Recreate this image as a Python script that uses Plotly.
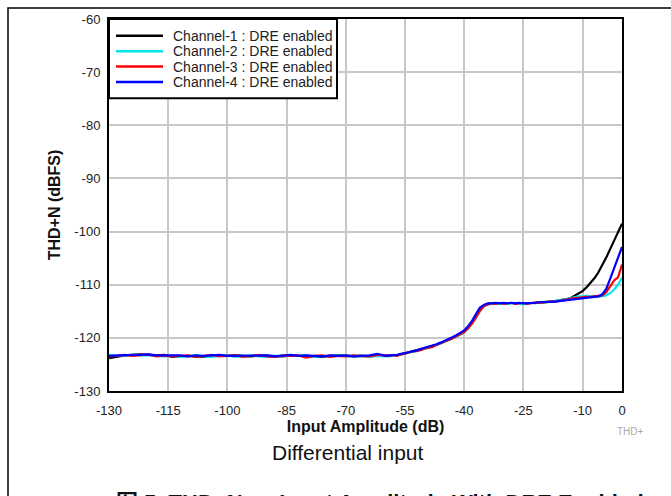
import plotly.graph_objects as go

# x positions (dB)
x_flat = [-130, -128, -126, -124, -122, -120, -118, -116, -114, -112, -110, -108,
          -106, -104, -102, -100, -98, -96, -94, -92, -90, -88, -86, -84,
          -82, -80, -78, -76, -74, -72, -70, -68, -66, -64, -62, -60]
x_rise = [-59, -58, -57, -56, -55, -54, -53, -52, -51, -50,
          -49, -48, -47, -46, -45, -44, -43, -42, -41, -40,
          -39, -38, -37, -36, -35, -34, -33, -32, -31, -30,
          -29, -28, -27, -26, -25, -24, -23, -22, -21, -20,
          -19, -18, -17, -16, -15, -14, -13, -12, -11, -10,
          -9, -8, -7, -6, -5, -4, -3, -2, -1, 0]
input_db = x_flat + x_rise

ch1 = [-123.8, -123.5, -123.3, -123.2, -123.1, -123.2, -123.3, -123.2, -123.6, -123.5, -123.4, -123.5,
       -123.6, -123.3, -123.4, -123.4, -123.3, -123.4, -123.5, -123.3, -123.4, -123.4, -123.5, -123.3,
       -123.4, -123.4, -123.5, -123.6, -123.4, -123.3, -123.4, -123.5, -123.4, -123.5, -123.3, -123.4,
       -123.4, -123.3, -123.3, -123.1, -122.9, -122.8, -122.6, -122.4, -122.2, -122.0,
       -121.8, -121.6, -121.3, -121.0, -120.7, -120.4, -120.0, -119.6, -119.3, -118.8,
       -118.0, -117.0, -115.8, -114.6, -113.9, -113.6, -113.5, -113.5, -113.4, -113.5,
       -113.5, -113.4, -113.5, -113.5, -113.5, -113.4, -113.5, -113.4, -113.3, -113.3,
       -113.2, -113.2, -113.1, -113.0, -112.9, -112.7, -112.5, -112.1, -111.7, -111.2,
       -110.5, -109.7, -108.8, -107.7, -106.4, -104.9, -103.3, -101.7, -100.1, -98.5]

ch2 = [-123.2, -123.4, -123.3, -123.3, -123.2, -123.3, -123.4, -123.5, -123.4, -123.6, -123.4, -123.3,
       -123.5, -123.6, -123.4, -123.3, -123.6, -123.4, -123.3, -123.5, -123.6, -123.4, -123.4, -123.5,
       -123.4, -123.3, -123.6, -123.4, -123.5, -123.3, -123.4, -123.5, -123.3, -123.6, -123.4, -123.5,
       -123.5, -123.4, -123.3, -123.2, -123.0, -122.8, -122.7, -122.5, -122.2, -122.1,
       -121.9, -121.6, -121.4, -121.1, -120.8, -120.5, -120.2, -119.8, -119.4, -119.0,
       -118.3, -117.4, -116.3, -115.0, -114.1, -113.7, -113.6, -113.5, -113.6, -113.5,
       -113.6, -113.5, -113.4, -113.6, -113.7, -113.5, -113.4, -113.5, -113.3, -113.4,
       -113.3, -113.2, -113.1, -113.0, -112.9, -112.7, -112.5, -112.3, -112.2, -112.2,
       -112.1, -112.2, -112.1, -112.3, -112.2, -112.0, -111.6, -110.9, -110.0, -108.7]

ch3 = [-123.5, -123.3, -123.2, -123.4, -123.3, -123.1, -123.5, -123.3, -123.5, -123.4, -123.3, -123.6,
       -123.4, -123.2, -123.5, -123.4, -123.3, -123.6, -123.4, -123.2, -123.5, -123.6, -123.3, -123.4,
       -123.3, -123.7, -123.4, -123.3, -123.6, -123.4, -123.5, -123.3, -123.4, -123.5, -123.2, -123.4,
       -123.4, -123.2, -123.4, -123.1, -123.0, -122.7, -122.6, -122.4, -122.3, -122.0,
       -121.8, -121.7, -121.3, -121.0, -120.8, -120.4, -120.1, -119.7, -119.3, -118.9,
       -118.2, -117.3, -116.1, -114.9, -114.0, -113.7, -113.5, -113.6, -113.4, -113.6,
       -113.5, -113.4, -113.6, -113.5, -113.4, -113.6, -113.5, -113.3, -113.4, -113.3,
       -113.3, -113.2, -113.2, -113.1, -112.9, -112.8, -112.6, -112.5, -112.4, -112.4,
       -112.3, -112.3, -112.2, -112.2, -112.0, -111.4, -110.3, -109.2, -108.6, -106.2]

ch4 = [-123.4, -123.3, -123.3, -123.2, -123.2, -123.1, -123.3, -123.3, -123.4, -123.3, -123.5, -123.3,
       -123.4, -123.3, -123.2, -123.4, -123.4, -123.3, -123.4, -123.3, -123.3, -123.5, -123.3, -123.2,
       -123.4, -123.3, -123.4, -123.5, -123.3, -123.4, -123.3, -123.5, -123.4, -123.3, -123.0, -123.4,
       -123.3, -123.3, -123.2, -123.0, -122.9, -122.7, -122.5, -122.4, -122.1, -121.9,
       -121.7, -121.5, -121.2, -120.9, -120.6, -120.3, -119.9, -119.5, -119.1, -118.6,
       -117.8, -116.8, -115.5, -114.3, -113.8, -113.5, -113.5, -113.4, -113.5, -113.4,
       -113.5, -113.4, -113.5, -113.4, -113.5, -113.5, -113.4, -113.4, -113.3, -113.3,
       -113.3, -113.2, -113.2, -113.1, -113.0, -112.9, -112.8, -112.7, -112.6, -112.5,
       -112.4, -112.4, -112.3, -112.2, -111.8, -110.8, -108.9, -106.8, -104.8, -102.9]

series_names = ["Channel-1 : DRE enabled", "Channel-2 : DRE enabled",
                "Channel-3 : DRE enabled", "Channel-4 : DRE enabled"]
series_values = [ch1, ch2, ch3, ch4]
series_colors = ["#000000", "#00e5ee", "#ff0000", "#0000ff"]

x_ticks = [-130, -115, -100, -85, -70, -55, -40, -25, -10, 0]
y_ticks = [-130, -120, -110, -100, -90, -80, -70, -60]

FONT = "Liberation Sans, Arial, sans-serif"

fig = go.Figure()
for name, vals, col in zip(series_names, series_values, series_colors):
    fig.add_trace(go.Scatter(x=input_db, y=vals, mode="lines", name=name,
                             line=dict(color=col, width=2.2)))

W, H = 671, 496
L, R, T, B = 109, 49, 16, 105
pw, ph = W - L - R, H - T - B


def px(xp):
    return (xp - L) / pw


def py(yp):
    return (H - B - yp) / ph


shapes = [dict(type="rect", xref="paper", yref="paper",
               x0=px(8), x1=px(690), y0=py(520), y1=py(5),
               line=dict(color="black", width=1.5), fillcolor="rgba(0,0,0,0)",
               layer="below")]
annotations = []

# legend box (drawn manually for compact row spacing)
shapes.append(dict(type="rect", xref="paper", yref="paper",
                   x0=px(109), x1=px(337), y0=py(96), y1=py(16),
                   line=dict(color="black", width=2), fillcolor="white", layer="above"))
row_y = [33, 48.5, 64, 79.5]
for name, col, ry in zip(series_names, series_colors, row_y):
    shapes.append(dict(type="line", xref="paper", yref="paper",
                       x0=px(116), x1=px(163), y0=py(ry), y1=py(ry),
                       line=dict(color=col, width=2.5), layer="above"))
    annotations.append(dict(text=name, xref="paper", yref="paper",
                            x=px(171), y=py(ry), xanchor="left", yanchor="middle",
                            showarrow=False,
                            font=dict(family=FONT, size=14, color="#222222")))

annotations += [
    dict(text="THD+", xref="paper", yref="paper", x=px(630), y=py(432),
         xanchor="center", yanchor="middle",
         showarrow=False, font=dict(family=FONT, size=10, color="#aaaaaa")),
    dict(text="Differential input", xref="paper", yref="paper", x=px(348), y=py(453),
         xanchor="center", yanchor="middle",
         showarrow=False, font=dict(family=FONT, size=21, color="#111111")),
    dict(text="<b>图 5. THD+N vs Input Amplitude With DRE Enabled</b>",
         xref="paper", yref="paper", x=px(114), y=py(489),
         xanchor="left", yanchor="top", showarrow=False,
         font=dict(family="Liberation Sans, Noto Sans CJK SC, sans-serif", size=22, color="#111111")),
]

fig.update_layout(
    width=W, height=H,
    margin=dict(l=L, r=R, t=T, b=B),
    paper_bgcolor="white", plot_bgcolor="white",
    font=dict(family=FONT, size=13, color="#222222"),
    showlegend=False,
    xaxis=dict(range=[-130, 0], tickvals=x_ticks, ticktext=[str(v) for v in x_ticks],
               showgrid=True, gridcolor="#c8c8c8", gridwidth=1.5,
               showline=True, linecolor="black", linewidth=2, mirror=True,
               ticks="", zeroline=False, ticklabelstandoff=6,
               tickfont=dict(family=FONT, size=13, color="#222222"),
               title=dict(text="<b>Input Amplitude (dB)</b>", standoff=2,
                          font=dict(family=FONT, size=16, color="#111111"))),
    yaxis=dict(range=[-130, -60], tickvals=y_ticks, ticktext=[str(v) for v in y_ticks],
               showgrid=True, gridcolor="#c8c8c8", gridwidth=1.5,
               showline=True, linecolor="black", linewidth=2, mirror=True,
               ticks="", zeroline=False, ticklabelstandoff=4,
               tickfont=dict(family=FONT, size=13, color="#222222"),
               title=dict(text="<b>THD+N (dBFS)</b>", standoff=10,
                          font=dict(family=FONT, size=16, color="#111111"))),
    shapes=shapes,
    annotations=annotations,
)

fig.write_html("out.html")
